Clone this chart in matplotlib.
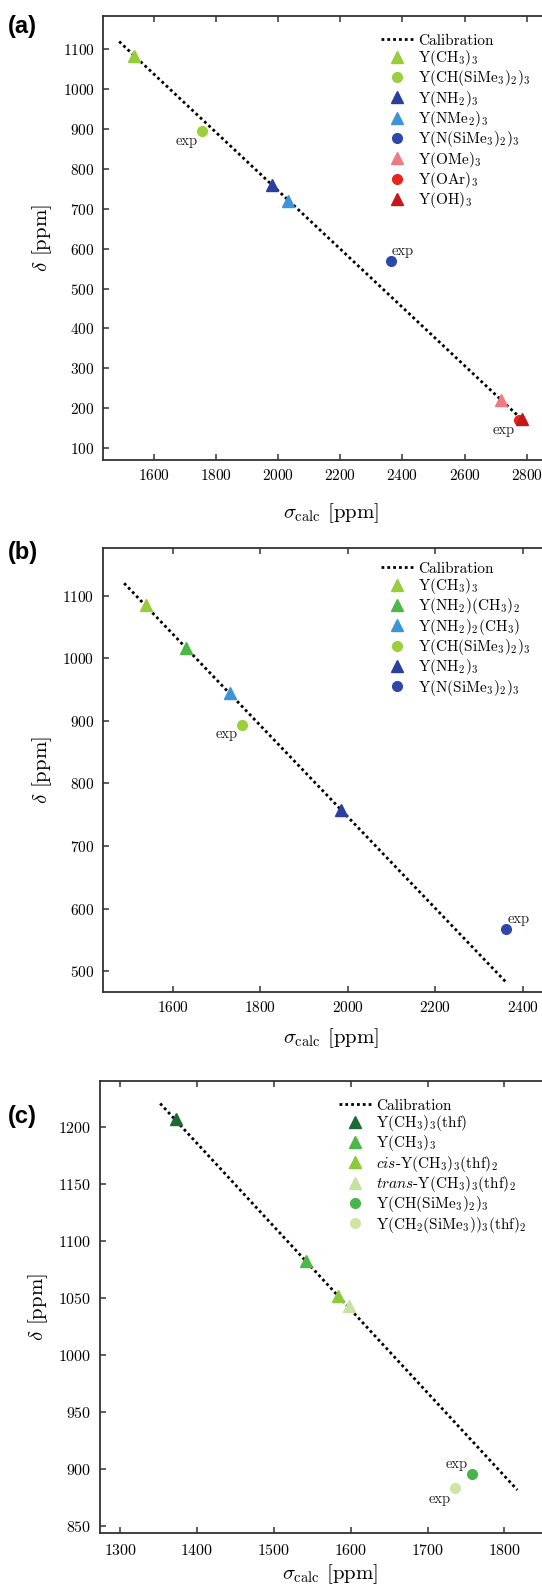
import matplotlib
matplotlib.use("Agg")
import matplotlib.pyplot as plt

plt.rcParams['font.family'] = 'cmr10'
plt.rcParams['mathtext.fontset'] = 'cm'
plt.rcParams['axes.formatter.use_mathtext'] = True

W, H = 542, 1585

# ---------------- data ----------------
# panel (a)
a_calib_x = [1489, 2795]
a_calib_y = [1120, 164]
a_names = [r'Y(CH$_3$)$_3$', r'Y(CH(SiMe$_3$)$_2$)$_3$', r'Y(NH$_2$)$_3$', r'Y(NMe$_2$)$_3$',
           r'Y(N(SiMe$_3$)$_2$)$_3$', r'Y(OMe)$_3$', r'Y(OAr)$_3$', r'Y(OH)$_3$']
a_x = [1537, 1755, 1981, 2033, 2362, 2716, 2774, 2786]
a_y = [1083, 895, 759, 720, 570, 220, 170, 172]
a_markers = ['^', 'o', '^', '^', 'o', '^', 'o', '^']
a_colors = ['#97cc3a', '#9ccf3c', '#2c3e9e', '#3f94d8', '#2f47a8', '#f07a82', '#e8241f', '#c3161d']
a_exp = [1, 4, 6]

# panel (b)
b_calib_x = [1489, 2362]
b_calib_y = [1120, 482]
b_names = [r'Y(CH$_3$)$_3$', r'Y(NH$_2$)(CH$_3$)$_2$', r'Y(NH$_2$)$_2$(CH$_3$)',
           r'Y(CH(SiMe$_3$)$_2$)$_3$', r'Y(NH$_2$)$_3$', r'Y(N(SiMe$_3$)$_2$)$_3$']
b_x = [1539, 1630, 1731, 1758, 1984, 2362]
b_y = [1085, 1017, 944, 894, 758, 568]
b_markers = ['^', '^', '^', 'o', '^', 'o']
b_colors = ['#97cc3a', '#4cb847', '#3f94d8', '#9ccf3c', '#2c3e9e', '#2f47a8']
b_exp = [3, 5]

# panel (c)
c_calib_x = [1352, 1817]
c_calib_y = [1221, 882]
c_names = [r'Y(CH$_3$)$_3$(thf)', r'Y(CH$_3$)$_3$', r'$\it{cis}$-Y(CH$_3$)$_3$(thf)$_2$',
           r'$\it{trans}$-Y(CH$_3$)$_3$(thf)$_2$', r'Y(CH(SiMe$_3$)$_2$)$_3$',
           r'Y(CH$_2$(SiMe$_3$))$_3$(thf)$_2$']
c_x = [1372, 1542, 1584, 1598, 1758, 1736]
c_y = [1207, 1083, 1052, 1043, 896, 884]
c_markers = ['^', '^', '^', '^', 'o', 'o']
c_colors = ['#1b6a30', '#4cb847', '#8cc83c', '#c4e2a0', '#45b649', '#cfe5a6']
c_exp = [4, 5]

# ---------------- layout ----------------
fig = plt.figure(figsize=(W / 100, H / 100), dpi=100)


def rect(left, top, bottom, right=560):
    return [left / W, 1 - bottom / H, (right - left) / W, (bottom - top) / H]


def style(ax, xpad=6, xlabelpad=4, labelsize=11):
    for s in ax.spines.values():
        s.set_linewidth(1.3)
        s.set_color('#333333')
    ax.tick_params(direction='in', top=True, right=True, length=4, width=1.1,
                   color='#333333', labelsize=labelsize, pad=6)
    ax.tick_params(axis='x', pad=xpad)
    ax.set_xlabel(r'$\sigma_{\mathrm{calc}}$ [ppm]', fontsize=15, labelpad=xlabelpad)
    ax.set_ylabel(r'$\delta$ [ppm]', fontsize=15, labelpad=6)


def panel(ax, cx, cy, names, xs, ys, markers, colors, exps, exp_off, leg_xy):
    ax.plot(cx, cy, linestyle=(0, (1, 1.1)), color='black', lw=2.0, label='Calibration', zorder=2)
    for n, x, y, m, c in zip(names, xs, ys, markers, colors):
        ms = 8 if m == '^' else 7
        ax.plot([x], [y], linestyle='none', marker=m, ms=ms, color=c, mec=c, label=n, zorder=3)
    for i, (dx, dy, ha, va) in zip(exps, exp_off):
        ax.annotate('exp', (xs[i], ys[i]), xytext=(dx, dy), textcoords='offset points',
                    fontsize=10.5, ha=ha, va=va, color='#222222')
    ax.legend(loc='upper left', bbox_to_anchor=(leg_xy[0] / W, 1 - leg_xy[1] / H),
              bbox_transform=fig.transFigure, frameon=False, fontsize=11,
              borderpad=0, handlelength=2.1, handletextpad=0.35, labelspacing=0.02,
              borderaxespad=0)


# (a)
axa = fig.add_axes(rect(103, 15.6, 460))
style(axa, xpad=6, xlabelpad=13)
axa.set_xlim(1437, 2907)
axa.set_ylim(70, 1185)
axa.set_xticks([1600, 1800, 2000, 2200, 2400, 2600, 2800])
axa.set_yticks([100, 200, 300, 400, 500, 600, 700, 800, 900, 1000, 1100])
panel(axa, a_calib_x, a_calib_y, a_names, a_x, a_y, a_markers, a_colors, a_exp,
      [(-3, -2, 'right', 'top'), (1, 2, 'left', 'bottom'), (-3, -2, 'right', 'top')],
      (381, 34))

# (b)
axb = fig.add_axes(rect(102.7, 548.2, 991.7))
style(axb, xpad=6, xlabelpad=8)
axb.set_xlim(1440, 2485)
axb.set_ylim(467, 1176)
axb.set_xticks([1600, 1800, 2000, 2200, 2400])
axb.set_yticks([500, 600, 700, 800, 900, 1000, 1100])
panel(axb, b_calib_x, b_calib_y, b_names, b_x, b_y, b_markers, b_colors, b_exp,
      [(-3, -2, 'right', 'top'), (1, 2, 'left', 'bottom')],
      (381, 562))

# (c)
axc = fig.add_axes(rect(100, 1080.7, 1533.3))
style(axc, xpad=7, xlabelpad=3, labelsize=11.5)
axc.set_xlim(1273.6, 1872.5)
axc.set_ylim(844, 1241)
axc.set_xticks([1300, 1400, 1500, 1600, 1700, 1800])
axc.set_yticks([850, 900, 950, 1000, 1050, 1100, 1150, 1200])
panel(axc, c_calib_x, c_calib_y, c_names, c_x, c_y, c_markers, c_colors, c_exp,
      [(-3, 2, 'right', 'bottom'), (-3, -3, 'right', 'top')],
      (339, 1099))

for lab, y in [('(a)', 26), ('(b)', 553), ('(c)', 1117)]:
    fig.text(8 / W, 1 - y / H, lab, family=['Liberation Sans', 'DejaVu Sans'],
             fontweight='bold', fontsize=17, ha='left', va='center')

fig.savefig('out.png', dpi=100)
